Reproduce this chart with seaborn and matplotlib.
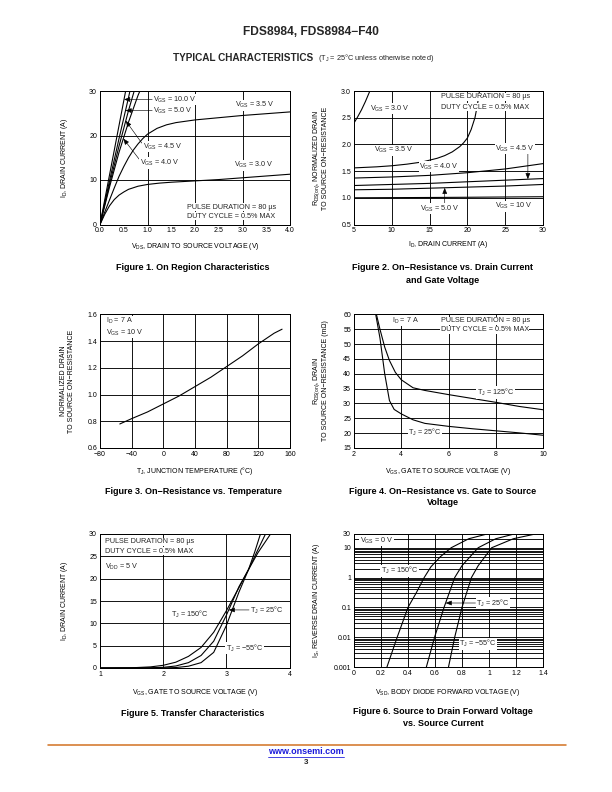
import numpy as np
import matplotlib
matplotlib.use("Agg")
import matplotlib.pyplot as plt
import seaborn as sns
from matplotlib.lines import Line2D
from matplotlib.ticker import NullLocator

sns.set_style("white")
plt.rcParams["font.family"] = ["Liberation Sans", "DejaVu Sans"]

W, H = 612, 792

# ---------------- data read from the page ----------------
# Fig 1: ID vs VDS for each VGS
f1_v30 = [0, 0.1, 0.2, 0.3, 0.4, 0.5, 0.6, 0.8, 1.0, 1.25, 1.5, 2.0, 2.5, 3.0, 3.5, 4.0]
f1_i30 = [0, 2.3, 4.2, 5.6, 6.6, 7.3, 7.9, 8.6, 9.0, 9.3, 9.5, 9.8, 10.1, 10.5, 10.9, 11.3]
f1_v35 = [0, 0.1, 0.2, 0.3, 0.4, 0.5, 0.6, 0.7, 0.8, 0.9, 1.0, 1.2, 1.4, 1.6, 2.0, 2.5, 3.0, 3.5, 4.0]
f1_i35 = [0, 2.8, 5.5, 8.2, 10.8, 13.0, 15.0, 16.7, 18.1, 19.3, 20.3, 21.6, 22.4, 22.9, 23.5, 24.0, 24.5, 24.9, 25.3]
f1_v40 = [0, 0.2, 0.4, 0.6, 0.8, 0.84]
f1_i40 = [0, 8.4, 16.2, 23.0, 29.0, 30.0]
f1_v45 = [0, 0.2, 0.4, 0.6, 0.72]
f1_i45 = [0, 9.0, 17.6, 25.6, 30.0]
f1_v50 = [0, 0.2, 0.4, 0.6, 0.63]
f1_i50 = [0, 9.8, 19.3, 28.5, 30.0]
f1_v100 = [0, 0.27, 0.54]
f1_i100 = [0, 15.0, 30.0]

# Fig 2: normalized RDS(on) vs ID
f2_id30 = [5, 5.5, 6, 6.5, 7.1]
f2_r30 = [2.40, 2.52, 2.65, 2.80, 3.0]
f2_id35 = [5, 8, 10, 12, 14, 16, 17, 18, 19, 19.5, 20, 20.5, 21, 21.3, 21.6]
f2_r35 = [1.56, 1.58, 1.60, 1.63, 1.67, 1.74, 1.79, 1.86, 1.96, 2.03, 2.12, 2.28, 2.50, 2.72, 3.0]
f2_id = [5, 10, 15, 20, 25, 30]
f2_r40 = [1.37, 1.39, 1.42, 1.47, 1.54, 1.64]
f2_r45 = [1.23, 1.25, 1.27, 1.30, 1.33, 1.36]
f2_r50 = [1.15, 1.16, 1.18, 1.20, 1.22, 1.25]
f2_r100 = [1.0, 1.003, 1.006, 1.01, 1.015, 1.02]

# Fig 3: normalized RDS(on) vs TJ
f3_t = [-55, -40, -20, 0, 20, 40, 60, 80, 100, 120, 140, 150]
f3_r = [0.78, 0.82, 0.87, 0.93, 0.99, 1.06, 1.13, 1.21, 1.29, 1.38, 1.46, 1.49]

# Fig 4: RDS(on) (mOhm) vs VGS
f4_v25 = [2.92, 3.1, 3.3, 3.5, 3.7, 4.0, 4.5, 5.0, 6.0, 7.0, 8.0, 9.0, 10.0]
f4_r25 = [60, 52, 40, 31, 28, 26.5, 24.5, 23.3, 22.3, 21.5, 20.8, 20.1, 19.3]
f4_v125 = [2.95, 3.1, 3.3, 3.5, 3.75, 4.0, 4.5, 5.0, 6.0, 7.0, 8.0, 9.0, 10.0]
f4_r125 = [60, 55, 49, 44.5, 40.5, 38, 35.3, 34.4, 33, 31.7, 30.4, 29, 27.9]

# Fig 5: transfer characteristics
f5_v150 = [1.0, 1.5, 1.8, 2.0, 2.2, 2.4, 2.6, 2.8, 3.0, 3.2, 3.35, 3.5, 3.7]
f5_i150 = [0.0, 0.05, 0.25, 0.6, 1.3, 2.6, 4.6, 8.0, 12.8, 18.0, 22.0, 25.8, 30.0]
f5_v25 = [1.0, 1.8, 2.0, 2.2, 2.4, 2.6, 2.8, 3.0, 3.2, 3.35, 3.5, 3.62]
f5_i25 = [0.0, 0.05, 0.15, 0.45, 1.2, 2.8, 6.0, 11.8, 18.2, 22.0, 26.5, 30.0]
f5_vm55 = [1.0, 2.0, 2.2, 2.4, 2.6, 2.8, 3.0, 3.2, 3.35, 3.45, 3.54]
f5_im55 = [0.0, 0.02, 0.1, 0.4, 1.2, 3.5, 9.5, 17.0, 22.0, 26.0, 30.0]

# Fig 6: body diode forward voltage
f6_v150 = [0.244, 0.32, 0.40, 0.46, 0.52, 0.57, 0.64, 0.72, 0.85, 1.0]
f6_i150 = [0.001, 0.01, 0.1, 0.3, 1, 2.3, 5, 10, 20, 30]
f6_v25 = [0.536, 0.597, 0.667, 0.746, 0.80, 0.86, 0.92, 1.05, 1.2]
f6_i25 = [0.001, 0.01, 0.1, 1, 2.5, 5, 10, 20, 30]
f6_vm55 = [0.70, 0.746, 0.80, 0.87, 0.92, 0.97, 1.02, 1.18, 1.36]
f6_im55 = [0.001, 0.01, 0.1, 1, 2.5, 5, 10, 20, 30]

# ---------------- helpers ----------------
def box(l, t, r, b):
    return [l / W, 1 - b / H, (r - l) / W, (b - t) / H]


def ftext(x, y, s, **kw):
    return fig.text(x / W, 1 - y / H, s, **kw)


def setup(ax, xlim, ylim, xt, xtl, yt, ytl, gx, gy):
    ax.set_xlim(xlim)
    ax.set_ylim(ylim)
    ax.set_xticks(xt)
    ax.set_xticklabels(xtl)
    ax.set_yticks(yt)
    ax.set_yticklabels(ytl)
    ax.yaxis.set_minor_locator(NullLocator())
    ax.tick_params(length=0, labelsize=7, pad=3, colors="k")
    ax.set_xlabel("")
    ax.set_ylabel("")
    for x in gx:
        ax.axvline(x, color="k", lw=0.9, zorder=1)
    for y in gy:
        ax.axhline(y, color="k", lw=0.9, zorder=1)
    for s in ax.spines.values():
        s.set_color("k")
        s.set_linewidth(1.0)
        s.set_zorder(6)


def curve(ax, x, y):
    sns.lineplot(x=np.array(x), y=np.array(y), ax=ax, color="k", lw=1.1,
                 sort=False, estimator=None, zorder=3)


def lab(ax, x, y, s, ha="left"):
    ax.text(x, y, s, fontsize=7.3, ha=ha, va="center", zorder=5,
            bbox=dict(fc="white", ec="none", pad=0.5))


def arrow(ax, start, end):
    ax.annotate("", xy=end, xytext=start, zorder=5,
                arrowprops=dict(arrowstyle="-|>,head_length=0.5,head_width=0.2",
                                color="k", lw=0.6, shrinkA=0, shrinkB=0))


VGS = r"V$_\mathregular{GS}$"
TJ = r"T$_\mathregular{J}$"

fig = plt.figure(figsize=(8.5, 11), dpi=72)

# ---------------- Figure 1 ----------------
ax1 = fig.add_axes(box(100, 91, 290, 224.5))
for v, i in [(f1_v30, f1_i30), (f1_v35, f1_i35), (f1_v40, f1_i40),
             (f1_v45, f1_i45), (f1_v50, f1_i50), (f1_v100, f1_i100)]:
    curve(ax1, v, i)
setup(ax1, (0, 4), (0, 30), np.arange(0, 4.01, 0.5),
      ["%.1f" % v for v in np.arange(0, 4.01, 0.5)],
      [0, 10, 20, 30], ["0", "10", "20", "30"], [1, 2, 3], [10, 20])
arrow(ax1, (1.1, 28.1), (np.interp(28.1, f1_i100, f1_v100), 28.1))
arrow(ax1, (1.1, 25.6), (np.interp(25.6, f1_i50, f1_v50), 25.6))
arrow(ax1, (0.88, 18.3), (np.interp(23.3, f1_i45, f1_v45), 23.3))
arrow(ax1, (0.83, 14.6), (np.interp(19.3, f1_i40, f1_v40), 19.3))
lab(ax1, 1.12, 28.1, VGS + " = 10.0 V")
lab(ax1, 1.12, 25.6, VGS + " = 5.0 V")
lab(ax1, 0.9, 17.5, VGS + " = 4.5 V")
lab(ax1, 0.84, 13.8, VGS + " = 4.0 V")
lab(ax1, 2.85, 26.8, VGS + " = 3.5 V")
lab(ax1, 2.83, 13.3, VGS + " = 3.0 V")
lab(ax1, 1.83, 3.9, "PULSE DURATION = 80 µs")
lab(ax1, 1.83, 1.9, "DUTY CYCLE = 0.5% MAX")

# ---------------- Figure 2 ----------------
ax2 = fig.add_axes(box(354, 91, 543, 224.5))
curve(ax2, f2_id30, f2_r30)
curve(ax2, f2_id35, f2_r35)
for r in [f2_r40, f2_r45, f2_r50, f2_r100]:
    curve(ax2, f2_id, r)
setup(ax2, (5, 30), (0.5, 3.0), [5, 10, 15, 20, 25, 30],
      ["5", "10", "15", "20", "25", "30"],
      [0.5, 1.0, 1.5, 2.0, 2.5, 3.0], ["0.5", "1.0", "1.5", "2.0", "2.5", "3.0"],
      [10, 15, 20, 25], [1.0, 1.5, 2.0, 2.5])
arrow(ax2, (28, 1.84), (28, np.interp(28, f2_id, f2_r45)))
arrow(ax2, (17, 0.88), (17, np.interp(17, f2_id, f2_r50)))
lab(ax2, 7.1, 2.67, VGS + " = 3.0 V")
lab(ax2, 7.6, 1.89, VGS + " = 3.5 V")
lab(ax2, 13.6, 1.58, VGS + " = 4.0 V")
lab(ax2, 23.7, 1.92, VGS + " = 4.5 V")
lab(ax2, 13.7, 0.80, VGS + " = 5.0 V")
lab(ax2, 23.6, 0.84, VGS + " = 10 V")
lab(ax2, 16.5, 2.89, "PULSE DURATION = 80 µs")
lab(ax2, 16.5, 2.70, "DUTY CYCLE = 0.5% MAX")

# ---------------- Figure 3 ----------------
ax3 = fig.add_axes(box(100, 314.5, 290, 448))
curve(ax3, f3_t, f3_r)
setup(ax3, (-80, 160), (0.6, 1.6), [-80, -40, 0, 40, 80, 120, 160],
      ["−80", "−40", "0", "40", "80", "120", "160"],
      [0.6, 0.8, 1.0, 1.2, 1.4, 1.6], ["0.6", "0.8", "1.0", "1.2", "1.4", "1.6"],
      [-40, 0, 40, 80, 120], [0.8, 1.0, 1.2, 1.4])
lab(ax3, -72, 1.55, r"I$_\mathregular{D}$ = 7 A")
lab(ax3, -72, 1.465, VGS + " = 10 V")

# ---------------- Figure 4 ----------------
ax4 = fig.add_axes(box(354, 314.5, 543, 448))
curve(ax4, f4_v25, f4_r25)
curve(ax4, f4_v125, f4_r125)
setup(ax4, (2, 10), (15, 60), [2, 4, 6, 8, 10], ["2", "4", "6", "8", "10"],
      list(range(15, 61, 5)), [str(v) for v in range(15, 61, 5)],
      [4, 6, 8], list(range(20, 56, 5)))
lab(ax4, 3.6, 57.9, r"I$_\mathregular{D}$ = 7 A")
lab(ax4, 5.67, 57.9, "PULSE DURATION = 80 µs")
lab(ax4, 5.67, 54.9, "DUTY CYCLE = 0.5% MAX")
lab(ax4, 7.2, 33.7, TJ + " = 125°C")
lab(ax4, 4.3, 20.3, TJ + " = 25°C")

# ---------------- Figure 5 ----------------
ax5 = fig.add_axes(box(100, 534, 289.5, 668))
curve(ax5, f5_v150, f5_i150)
curve(ax5, f5_v25, f5_i25)
curve(ax5, f5_vm55, f5_im55)
setup(ax5, (1, 4), (0, 30), [1, 2, 3, 4], ["1", "2", "3", "4"],
      list(range(0, 31, 5)), [str(v) for v in range(0, 31, 5)],
      [2, 3], [5, 10, 15, 20, 25])
arrow(ax5, (3.36, 13.0), (np.interp(13.0, f5_i25, f5_v25), 13.0))
lab(ax5, 1.08, 28.3, "PULSE DURATION = 80 µs")
lab(ax5, 1.08, 26.1, "DUTY CYCLE = 0.5% MAX")
lab(ax5, 1.08, 22.7, r"V$_\mathregular{DD}$ = 5 V")
lab(ax5, 2.13, 11.9, TJ + " = 150°C")
lab(ax5, 3.38, 13.0, TJ + " = 25°C")
lab(ax5, 2.99, 4.5, TJ + " = −55°C")

# ---------------- Figure 6 ----------------
ax6 = fig.add_axes(box(354, 533.5, 543, 667))
ax6.set_yscale("log")
curve(ax6, f6_v150, f6_i150)
curve(ax6, f6_v25, f6_i25)
curve(ax6, f6_vm55, f6_im55)
grid6 = [m * 10.0 ** k for k in range(-3, 2) for m in range(1, 10)]
grid6 = [g for g in grid6 if 0.001 < g < 30]
setup(ax6, (0, 1.4), (0.001, 30), [0, 0.2, 0.4, 0.6, 0.8, 1.0, 1.2, 1.4],
      ["0", "0.2", "0.4", "0.6", "0.8", "1", "1.2", "1.4"],
      [0.001, 0.01, 0.1, 1, 10, 30], ["0.001", "0.01", "0.1", "1", "10", "30"],
      [0.2, 0.4, 0.6, 0.8, 1.0, 1.2], grid6)
ax6.yaxis.set_minor_locator(NullLocator())
arrow(ax6, (0.9, 0.14), (np.interp(np.log10(0.14), np.log10(f6_i25), f6_v25), 0.14))
lab(ax6, 0.042, 17, VGS + " = 0 V")
lab(ax6, 0.2, 1.68, TJ + " = 150°C")
lab(ax6, 0.906, 0.14, TJ + " = 25°C")
lab(ax6, 0.78, 0.006, TJ + " = −55°C")

# ---------------- axis titles ----------------
kw = dict(fontsize=7, ha="center", va="center", color="k")
ftext(195, 246, r"V$_\mathregular{DS}$, DRAIN TO SOURCE VOLTAGE (V)", **kw)
ftext(448, 245, r"I$_\mathregular{D}$, DRAIN CURRENT (A)", **kw)
ftext(195, 471, TJ + ", JUNCTION TEMPERATURE (°C)", **kw)
ftext(448, 472, VGS + ", GATE TO SOURCE VOLTAGE (V)", **kw)
ftext(195, 692, VGS + ", GATE TO SOURCE VOLTAGE (V)", **kw)
ftext(448, 692, r"V$_\mathregular{SD}$, BODY DIODE FORWARD VOLTAGE (V)", **kw)

rk = dict(fontsize=7, ha="center", va="center", rotation=90, multialignment="center",
          linespacing=1.1, color="k")
ftext(64, 158, r"I$_\mathregular{D}$, DRAIN CURRENT (A)", **rk)
ftext(320, 158, "R$_\\mathregular{DS(on)}$, NORMALIZED DRAIN\nTO SOURCE ON−RESISTANCE", **rk)
ftext(67.5, 381, "NORMALIZED DRAIN\nTO SOURCE ON−RESISTANCE", **rk)
ftext(320, 381, "R$_\\mathregular{DS(on)}$, DRAIN\nTO SOURCE ON−RESISTANCE (mΩ)", **rk)
ftext(64, 601, r"I$_\mathregular{D}$, DRAIN CURRENT (A)", **rk)
ftext(316, 600, r"I$_\mathregular{S}$, REVERSE DRAIN CURRENT (A)", **rk)

# ---------------- captions ----------------
ck = dict(fontsize=9, ha="center", va="center", fontweight="bold", color="k")
ftext(193, 268, "Figure 1. On Region Characteristics", **ck)
ftext(443, 268, "Figure 2. On−Resistance vs. Drain Current", **ck)
ftext(443, 280, "and Gate Voltage", **ck)
ftext(193, 491, "Figure 3. On−Resistance vs. Temperature", **ck)
ftext(443, 491, "Figure 4. On−Resistance vs. Gate to Source", **ck)
ftext(443, 503, "Voltage", **ck)
ftext(193, 713, "Figure 5. Transfer Characteristics", **ck)
ftext(443, 712, "Figure 6. Source to Drain Forward Voltage", **ck)
ftext(443, 724, "vs. Source Current", **ck)

# ---------------- header / footer ----------------
ftext(311, 32, "FDS8984, FDS8984−F40", fontsize=12, fontweight="bold",
      ha="center", va="center")
ftext(173, 58, "TYPICAL CHARACTERISTICS", fontsize=10, fontweight="bold",
      ha="left", va="center")
ftext(318, 58, r"(T$_\mathregular{J}$ = 25°C unless otherwise noted)", fontsize=7.4,
      ha="left", va="center")

fig.add_artist(Line2D([48 / W, 566 / W], [1 - 744.5 / H, 1 - 744.5 / H],
                      color="#D4782C", lw=1.6))
ftext(306, 751.5, "www.onsemi.com", fontsize=9, fontweight="bold", color="#1A1ADB",
      ha="center", va="center")
fig.add_artist(Line2D([268 / W, 344 / W], [1 - 756.5 / H, 1 - 756.5 / H],
                      color="#1A1ADB", lw=0.8))
ftext(306, 762.5, "3", fontsize=8, fontweight="bold", ha="center", va="center")

fig.savefig("out.png", dpi=72, facecolor="white")
